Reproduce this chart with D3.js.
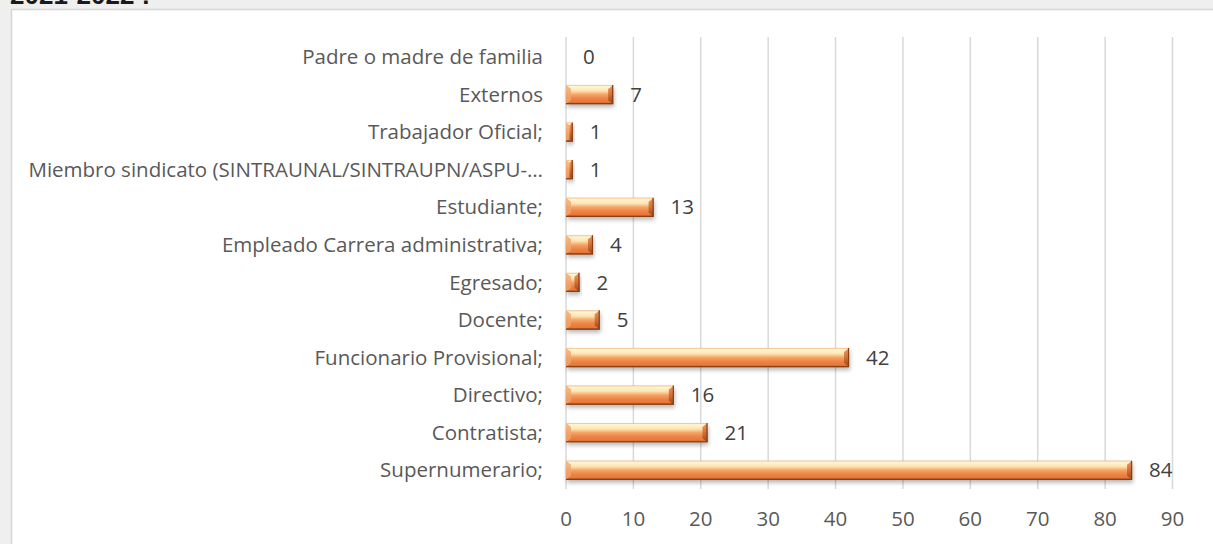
<!DOCTYPE html>
<html><head><meta charset="utf-8">
<script src="https://cdn.jsdelivr.net/npm/d3@7"></script>
<style>
html,body{margin:0;padding:0;background:#efefef;overflow:hidden;}
svg{display:block;}
</style></head>
<body>
<svg id="chart" width="1213" height="544"></svg>
<script>
const title = "2021-2022 :";
const categories = [
  "Padre o madre de familia",
  "Externos",
  "Trabajador Oficial;",
  "Miembro sindicato (SINTRAUNAL/SINTRAUPN/ASPU-…",
  "Estudiante;",
  "Empleado Carrera administrativa;",
  "Egresado;",
  "Docente;",
  "Funcionario Provisional;",
  "Directivo;",
  "Contratista;",
  "Supernumerario;"
];
const values = [0, 7, 1, 1, 13, 4, 2, 5, 42, 16, 21, 84];
const xTicks = [0, 10, 20, 30, 40, 50, 60, 70, 80, 90];

const svg = d3.select("#chart");
const font = "'Open Sans', 'Noto Sans', sans-serif";
const textColor = "#595959";
const fs = 20.5;

// background panel
svg.append("rect").attr("x",0).attr("y",0).attr("width",1213).attr("height",544).attr("fill","#efefef");
svg.append("rect").attr("x",11.5).attr("y",9.5).attr("width",1220).attr("height",560)
  .attr("fill","#ffffff").attr("stroke","#d6d6d6").attr("stroke-width",1.5);

// cut-off title (as in the reference, only its lower part shows)
svg.append("text").attr("x",10).attr("y",4).text(title)
  .attr("font-family","'Liberation Sans', Arial, sans-serif").attr("font-weight","bold")
  .attr("font-size",26).attr("fill","#1a1a1a");

const x = d3.scaleLinear().domain([0, 90]).range([566, 1172.5]);
const y = d3.scaleBand().domain(categories).range([38.2, 489]).paddingInner(0.49).paddingOuter(0.245);

const defs = svg.append("defs");
const g1 = defs.append("linearGradient").attr("id","barGrad").attr("x1",0).attr("y1",0).attr("x2",0).attr("y2",1);
[["0%","#f6b27c"],["8%","#fff6d2"],["30%","#fde5b2"],["50%","#f4a466"],["70%","#ee8445"],["90%","#e5773a"],["100%","#a64f1c"]]
  .forEach(s => g1.append("stop").attr("offset",s[0]).attr("stop-color",s[1]));
const g2 = defs.append("linearGradient").attr("id","endGrad").attr("x1",0).attr("y1",0).attr("x2",0).attr("y2",1);
[["0%","#e59a63"],["40%","#d9793e"],["100%","#9c4518"]]
  .forEach(s => g2.append("stop").attr("offset",s[0]).attr("stop-color",s[1]));
const f = defs.append("filter").attr("id","shadow").attr("x","-10%").attr("y","-50%").attr("width","120%").attr("height","250%");
f.append("feGaussianBlur").attr("stdDeviation",2.2);

// gridlines
svg.append("g").selectAll("line").data(xTicks).join("line")
  .attr("x1",d=>x(d)).attr("x2",d=>x(d)).attr("y1",37).attr("y2",489)
  .attr("stroke","#d9d9d9").attr("stroke-width",1.5);

// x tick labels
svg.append("g").selectAll("text").data(xTicks).join("text")
  .attr("x",d=>x(d)).attr("y",519).attr("dy","0.35em").attr("text-anchor","middle")
  .attr("font-family",font).attr("font-size",fs).attr("fill",textColor).text(d=>d);

// category labels
svg.append("g").selectAll("text").data(categories).join("text")
  .attr("x",543).attr("y",d=>y(d)+y.bandwidth()/2).attr("dy","0.35em").attr("text-anchor","end")
  .attr("font-family",font).attr("font-size",fs).attr("fill",textColor).text(d=>d);

const data = categories.map((c,i)=>({c, v: values[i]}));
const bh = y.bandwidth();
const bars = svg.append("g").selectAll("g").data(data.filter(d=>d.v>0)).join("g");
bars.append("rect")
  .attr("x",x(0)+1).attr("y",d=>y(d.c)+3).attr("width",d=>x(d.v)-x(0)).attr("height",bh)
  .attr("fill","#000").attr("opacity",0.28).attr("filter","url(#shadow)");
bars.append("rect")
  .attr("x",x(0)).attr("y",d=>y(d.c)).attr("width",d=>x(d.v)-x(0)).attr("height",bh)
  .attr("fill","url(#barGrad)");
bars.append("path")
  .attr("d",d=>{const x1=x(d.v), y0=y(d.c), w=Math.min(5,(x(d.v)-x(0))/2);
    return `M${x1-w},${y0+w*0.8}L${x1},${y0}L${x1},${y0+bh}L${x1-w},${y0+bh-w*0.8}Z`;})
  .attr("fill","url(#endGrad)");
bars.append("path")
  .attr("d",d=>{const x0=x(0), y0=y(d.c), w=Math.min(5,(x(d.v)-x(0))/2);
    return `M${x0},${y0}L${x0+w},${y0+w*0.8}L${x0+w},${y0+bh-w*0.8}L${x0},${y0+bh}Z`;})
  .attr("fill","#f0a56b").attr("opacity",0.8);
bars.append("path")
  .attr("d",d=>{const x1=x(d.v), y0=y(d.c);
    return `M${x(0)},${y0+bh-0.5}L${x1-0.5},${y0+bh-0.5}L${x1-0.5},${y0}`;})
  .attr("fill","none").attr("stroke","#8a3e12").attr("stroke-width",1.2);

// value labels
svg.append("g").selectAll("text").data(data).join("text")
  .attr("x",d=>x(d.v)+17).attr("y",d=>y(d.c)+bh/2).attr("dy","0.35em")
  .attr("font-family",font).attr("font-size",fs).attr("fill","#404040").text(d=>d.v);
</script>
</body></html>
